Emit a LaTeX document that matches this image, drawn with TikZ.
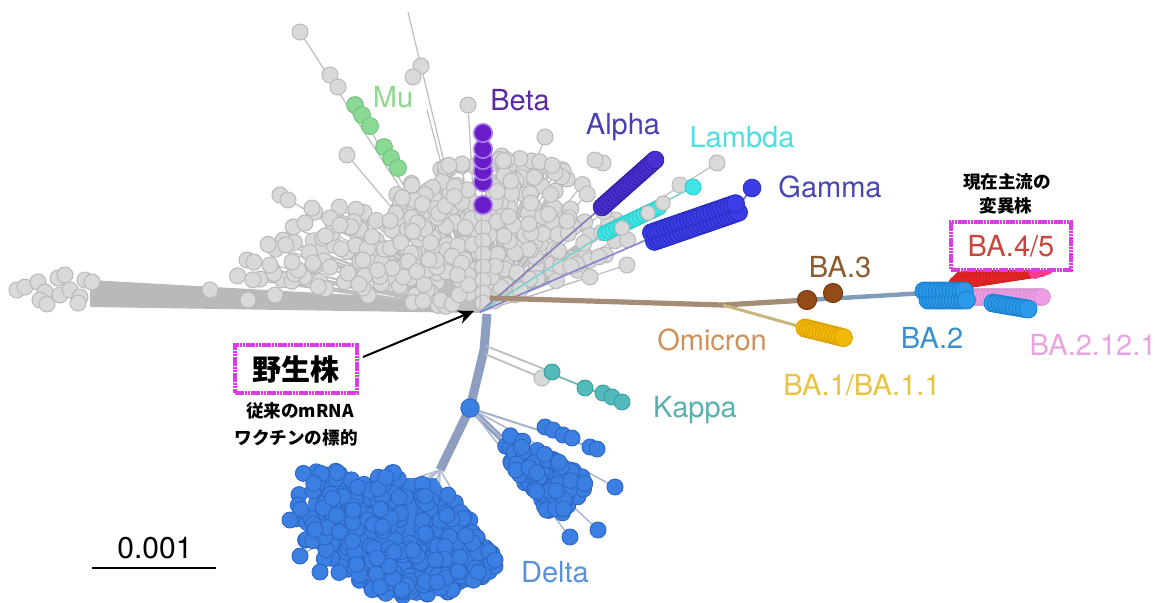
\documentclass[tikz,border=0pt]{standalone}
\usepackage{fontspec}
\setmainfont{TeX Gyre Heros}
\newfontfamily\jp{Noto Sans CJK JP}
\usetikzlibrary{arrows.meta}
\definecolor{cgray}{HTML}{D9D9D9}
\definecolor{cgrayE}{HTML}{B9B9B9}
\definecolor{cline}{HTML}{BEBEBE}
\definecolor{cband}{HTML}{B9B9B9}
\definecolor{cmu}{HTML}{8AD994}
\definecolor{cmuE}{HTML}{6CC27A}
\definecolor{cbeta}{HTML}{6A1CC8}
\definecolor{cbetaE}{HTML}{A77BE8}
\definecolor{calpha}{HTML}{4B2FD2}
\definecolor{calphaE}{HTML}{3520A8}
\definecolor{clam}{HTML}{40E4E4}
\definecolor{clamE}{HTML}{2CCACA}
\definecolor{cgam}{HTML}{3B3DE6}
\definecolor{cgamE}{HTML}{2A2BBE}
\definecolor{comi}{HTML}{A58C76}
\definecolor{cba3}{HTML}{954B17}
\definecolor{cba3E}{HTML}{6E3208}
\definecolor{cba1}{HTML}{F3B90A}
\definecolor{cba1E}{HTML}{DDA000}
\definecolor{cba1L}{HTML}{C9B57E}
\definecolor{cba2L}{HTML}{7E9CBA}
\definecolor{cba2}{HTML}{2B9AEA}
\definecolor{cba2E}{HTML}{1A7FCC}
\definecolor{cpink}{HTML}{EE9EE6}
\definecolor{cred}{HTML}{E82424}
\definecolor{cmag}{HTML}{FF3A8C}
\definecolor{cdel}{HTML}{3B7FE2}
\definecolor{cdelE}{HTML}{2C66C4}
\definecolor{ctrunk}{HTML}{8D9EC0}
\definecolor{ckap}{HTML}{52BABA}
\definecolor{ckapE}{HTML}{3A9E9E}
\definecolor{cbox}{HTML}{DE3AE6}
\definecolor{tmu}{HTML}{8ED88E}
\definecolor{tbeta}{HTML}{5A2BA2}
\definecolor{talpha}{HTML}{4A3FB0}
\definecolor{tlam}{HTML}{4EDFE0}
\definecolor{tgam}{HTML}{4747B4}
\definecolor{tba3}{HTML}{8A5A2C}
\definecolor{tomi}{HTML}{CF915C}
\definecolor{tba1}{HTML}{E9C23E}
\definecolor{tba2}{HTML}{3A8FCF}
\definecolor{tbaxii}{HTML}{E9A3E3}
\definecolor{tbaiv}{HTML}{C6453F}
\definecolor{tkap}{HTML}{58B0B0}
\definecolor{tdel}{HTML}{5A90D6}
\newcommand\dotset[3]{\foreach \x/\y in {#3}{\path[#1] (\x,\y) circle[radius=#2];}}
\begin{document}
\begin{tikzpicture}[x=0.5pt,y=-0.5pt,
  gc/.style={fill=cgray,draw=cgrayE,line width=0.5pt},
  spoke/.style={draw=cline,line width=0.6pt},
  muc/.style={fill=cmu,draw=cmuE,line width=0.45pt},
  betac/.style={fill=cbeta,draw=cbetaE,line width=0.8pt},
  alc/.style={fill=calpha,draw=calphaE,line width=0.45pt},
  lamc/.style={fill=clam,draw=clamE,line width=0.45pt},
  gamc/.style={fill=cgam,draw=cgamE,line width=0.45pt},
  ba3c/.style={fill=cba3,draw=cba3E,line width=0.45pt},
  ba1c/.style={fill=cba1,draw=cba1E,line width=0.45pt},
  ba2c/.style={fill=cba2,draw=cba2E,line width=0.45pt},
  pinkc/.style={fill=cpink,draw=cpink!85!black,line width=0.3pt},
  redc/.style={fill=cred,draw=cred!85!black,line width=0.3pt},
  dc/.style={fill=cdel,draw=cdelE,line width=0.45pt},
  kc/.style={fill=ckap,draw=ckapE,line width=0.45pt},
  lab/.style={inner sep=0pt,font=\fontsize{14.5}{17}\selectfont},
  jlab/.style={inner sep=0pt,font=\jp\bfseries\fontsize{8.8}{10}\selectfont},
  markbox/.style={draw=cbox,line width=2pt,dash pattern=on 1.3pt off 0.3pt,fill=white,inner sep=0pt}
]
\path[use as bounding box] (0,0) rectangle (1155,602);
\fill[white] (0,0) rectangle (1155,602);
\coordinate (R) at (480,312);

% ---------- long left branch ----------
\fill[cband] (90,280) -- (480,302) -- (480,313) -- (90,307) -- cycle;
\dotset{gc}{4pt}{17/290,25/287,38/282,45/292,40/300,47/304,58/278,65/275,60/295,70/290,80/297,78/303,85/280,92/282,210/290,248/300,275/295}

% ---------- explicit gray spokes ----------
\foreach \x/\y in {300/32,408/12,427/110,468/105,347/155,282/196,250/260,355/105,545/137,717/163,627/265,590/277,520/290,313/208,363/260}{\draw[spoke] (R) -- (\x,\y);}

% ---------- random gray fan ----------
\pgfmathsetseed{11}
\foreach \k in {1,...,230}{
  \pgfmathsetmacro\mya{-172+82*rnd}
  \pgfmathsetmacro\myu{rnd}
  \pgfmathsetmacro\myr{(150+2.2*max(0,-128-(\mya)))*(0.1+0.9*\myu^0.6)}
  \draw[spoke] (R) -- ++(\mya:\myr);
}
\pgfmathsetseed{23}
\foreach \k in {1,...,150}{
  \pgfmathsetmacro\mya{-86+64*rnd}
  \pgfmathsetmacro\myu{rnd}
  \pgfmathsetmacro\myr{165*(0.1+0.9*\myu^0.7)}
  \draw[spoke] (R) -- ++(\mya:\myr);
}
\pgfmathsetseed{11}
\foreach \k in {1,...,230}{
  \pgfmathsetmacro\mya{-172+82*rnd}
  \pgfmathsetmacro\myu{rnd}
  \pgfmathsetmacro\myr{(150+2.2*max(0,-128-(\mya)))*(0.1+0.9*\myu^0.6)}
  \path[gc] (R) ++(\mya:\myr) circle[radius=4pt];
}
\pgfmathsetseed{23}
\foreach \k in {1,...,150}{
  \pgfmathsetmacro\mya{-86+64*rnd}
  \pgfmathsetmacro\myu{rnd}
  \pgfmathsetmacro\myr{165*(0.1+0.9*\myu^0.7)}
  \path[gc] (R) ++(\mya:\myr) circle[radius=4pt];
}
\dotset{gc}{4pt}{300/32,330/75,338/87,421/66,413/77,468/105,347/155,280/195,288/200,312/208,305/223,330/218,340/225,247/260,254/262,270/265,292/262,313/263,330/267,348/273,363/260,545/137,717/163,680/185,627/265,590/277,520/290,603/163,595/160,483/215,483/228,483/241,483/254,483/267,483/280,483/293,483/303}

% ---------- Mu ----------
\dotset{muc}{4.2pt}{355/105,362/115,370/126,384/147,391/158,398/168}
% ---------- Beta ----------
\draw[spoke] (R) -- (483,133);
\dotset{betac}{4.6pt}{483/205,483/182,483/171,483/160,483/149,483/133}

% ---------- Alpha ----------
\draw[draw=talpha!50!cline,line width=0.8pt] (R) -- (602,207);
\foreach \t in {0,0.05,...,1.001}{\path[alc] ({602+53*\t},{207-47*\t}) circle[radius=4.4pt];}
% ---------- Lambda ----------
\draw[draw=clam!50!cline,line width=0.8pt] (R) -- (605,233) -- (693,187);
\foreach \t in {0,0.07,...,1.001}{\path[lamc] ({605+55*\t},{233-26*\t}) circle[radius=3.8pt];}
\dotset{gc}{3.6pt}{622/228,648/213,663/203}
\dotset{lamc}{4pt}{693/187}
% ---------- Gamma ----------
\draw[draw=cgam!45!cline,line width=0.8pt] (R) -- (653,237);
\draw[draw=cgam!60!cline,line width=0.8pt] (737,208) -- (752,188);
\foreach \t in {0,0.04,...,1.001}{
  \path[gamc] ({653+84*\t+1.5},{237-29*\t+4.3}) circle[radius=4.5pt];
  \path[gamc] ({653+84*\t-1.5},{237-29*\t-4.3}) circle[radius=4.5pt];}
\dotset{gamc}{4.4pt}{752/188}

% ---------- Omicron ----------
\coordinate (O1) at (490,298);
\coordinate (Os) at (723,305);
\coordinate (Ob3) at (807,300);
\coordinate (Ob3b) at (833,294);
\coordinate (Ob2) at (925,293);
\coordinate (Ob1) at (805,328);
\draw[comi,line width=2.6pt] (O1) -- (Os) -- (Ob3);
\draw[cba2L,line width=2.2pt] (Ob3) -- (Ob2);
\draw[cba1L,line width=1.5pt] (Os) -- (Ob1);
\foreach \t in {0,0.08,...,1.001}{\path[ba1c] ({805+40*\t},{328+10*\t}) circle[radius=4.5pt];}
\dotset{ba3c}{4.8pt}{807/300,833/293}
% BA.4/5 red band
\foreach \t in {0,0.04,...,1.001}{
  \path[redc] ({956+84*\t},{283-13*\t}) circle[radius=3.4pt];
  \path[redc] ({960+80*\t},{278-12*\t}) circle[radius=3.0pt];}
\dotset{fill=cmag,draw=cmag}{3.2pt}{1042/270,1047/268,1035/272}
% pink
\foreach \t in {0,0.05,...,1.001}{\path[pinkc] ({970+72*\t},{297}) circle[radius=4.2pt];}
% BA.2 cluster
\foreach \t in {0,0.08,...,1.001}{
  \path[ba2c] ({924+42*\t},{291}) circle[radius=4.5pt];
  \path[ba2c] ({928+40*\t},{300}) circle[radius=4.5pt];}
% BA.2.12.1 cluster
\foreach \t in {0,0.1,...,1.001}{\path[ba2c] ({993+35*\t},{303+6*\t}) circle[radius=4.5pt];}

% ---------- Delta trunk, Kappa ----------
\coordinate (D1) at (440,470);
\coordinate (D2) at (470,408);
\coordinate (K0) at (484,350);
\draw[ctrunk,line width=4.5pt,line join=round] (487,314) -- (K0) -- (D2) -- (D1);
\draw[ctrunk,line width=3pt] (D2) -- (503,440);
\draw[ctrunk!80,line width=1pt] (D2) -- (597,449);
\draw[cline,line width=0.9pt] (486,346) -- (552,372);
\draw[cline,line width=0.9pt] (485,354) -- (542,378);
\draw[ckap!60!cline,line width=1pt] (552,374) -- (622,402);
\dotset{gc}{4pt}{542/378}
\dotset{kc}{4pt}{552/372,585/388,603/393,612/397,622/402}

% ---------- Delta clusters ----------
\foreach \x/\y in {290/520,300/556,320/572,402/590,437/582,495/560}{\draw[ctrunk!70,line width=0.8pt] (D1) -- (\x,\y);}
\foreach \x/\y in {570/537,598/530,615/487}{\draw[ctrunk!70,line width=0.8pt] (D2) -- (\x,\y);}
\fill[cdel] (318,478) -- (436,478) -- (484,552) -- (452,572) -- (400,574) -- (340,555) -- (312,528) -- (308,502) -- cycle;
\pgfmathsetseed{5}
\foreach \k in {1,...,340}{
  \pgfmathsetmacro\mya{58+122*rnd}
  \pgfmathsetmacro\myu{rnd}
  \pgfmathsetmacro\myr{(110+0.45*(\mya-58)-(\mya>160)*(\mya-160))*(0.12+0.88*sqrt(\myu))}
  \path[dc] (D1) ++(\mya:\myr) circle[radius=4pt];
}
\pgfmathsetseed{8}
\foreach \k in {1,...,120}{
  \pgfmathsetmacro\mya{30+24*rnd}
  \pgfmathsetmacro\myu{rnd}
  \pgfmathsetmacro\myr{45+95*sqrt(\myu)}
  \path[dc] (D2) ++(\mya:\myr) circle[radius=4pt];
}
\dotset{dc}{4pt}{290/520,300/556,320/572,402/590,437/582,495/560,570/537,598/530,615/487,545/427,553/430,563/435,572/438,590/447,597/449}
\dotset{dc}{4.6pt}{470/408}

% ---------- labels ----------
\node[lab,text=tmu] (lmu) at (393,97) {Mu};
\node[lab,text=tbeta] (lbeta) at (520,100) {Beta};
\node[lab,text=talpha] (lalpha) at (623,127) {Alpha};
\node[lab,text=tlam] (llam) at (742,137) {Lambda};
\node[lab,text=tgam] (lgam) at (830,187) {Gamma};
\node[lab,text=tba3] (lba3) at (840,267) {BA.3};
\node[lab,text=tomi] (lomi) at (712,340) {Omicron};
\node[lab,text=tba1] (lba1) at (862,385) {BA.1/BA.1.1};
\node[lab,text=tba2] (lba2) at (932,338) {BA.2};
\node[lab,text=tbaxii] (lbaxii) at (1093,345) {BA.2.12.1};
\node[lab,text=tkap] (lkap) at (695,410) {Kappa};
\node[lab,text=tdel] (ldel) at (555,572) {Delta};
\node[markbox,minimum width=60pt,minimum height=24pt,lab,text=tbaiv] (lbaiv) at (1011,246) {BA.4/5};
\node[jlab] (cur1) at (1007,182) {現在主流の};
\node[jlab] (cur2) at (1006,206) {変異株};
\node[markbox,minimum width=61pt,minimum height=24pt,font=\jp\bfseries\fontsize{14.5}{16}\selectfont] (wild) at (296,369) {野生株};
\node[jlab] (v1) at (300,411) {従来のmRNA};
\node[jlab] (v2) at (296,438) {ワクチンの標的};
\coordinate (tip) at (474,311);
\draw[line width=1pt,-{Stealth[length=8pt,width=7pt]}] ([xshift=2pt,yshift=6pt]wild.east) -- (tip);
% scale bar
\node[lab,font=\fontsize{15}{17}\selectfont] (scl) at (155,548) {0.001};
\coordinate (s1) at (92,568);
\coordinate (s2) at (216,568);
\draw[line width=1pt] (s1) -- (s2);
\end{tikzpicture}
\end{document}
